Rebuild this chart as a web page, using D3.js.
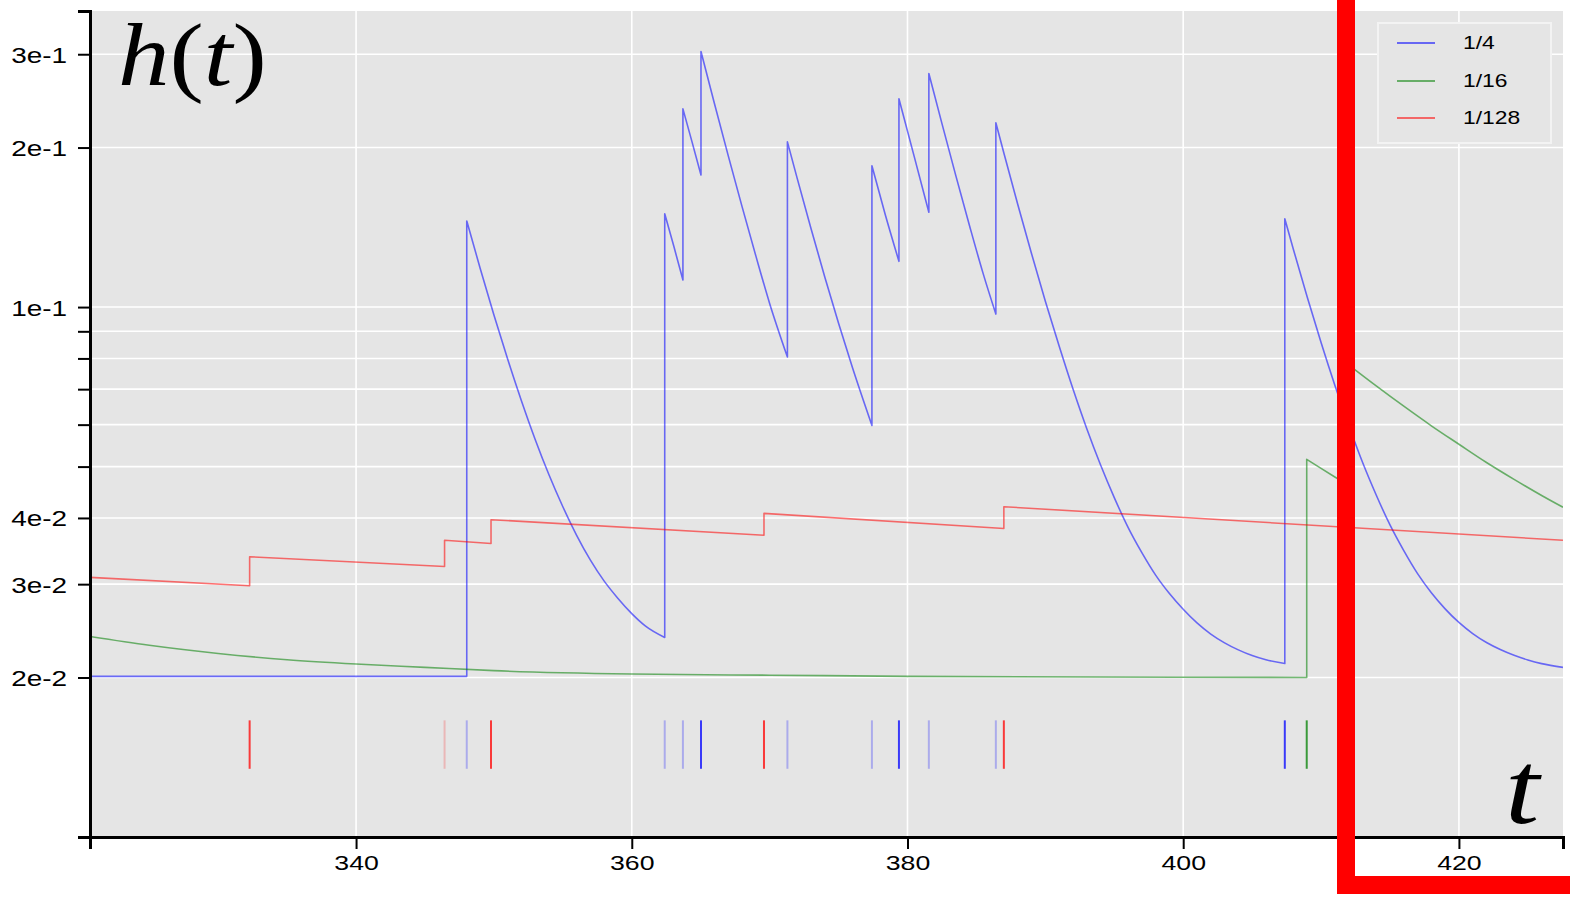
<!DOCTYPE html>
<html>
<head>
<meta charset="utf-8">
<script src="https://cdnjs.cloudflare.com/ajax/libs/d3/7.8.5/d3.min.js"></script>
<style>
  html, body { margin: 0; padding: 0; background: #ffffff; }
  svg { display: block; }
  text { font-family: "Liberation Sans", Arial, Helvetica, sans-serif; fill: #000; }
  .math { font-family: "Liberation Serif", "Times New Roman", serif; }
</style>
</head>
<body>
<svg id="chart" width="1570" height="897"></svg>
<script>
// ---- data -------------------------------------------------------------
const tDomain = [320.7, 427.55];
const hDomain = [0.01, 0.362];

const xTickValues = [340, 360, 380, 400, 420];
const yTickValues = [0.02, 0.03, 0.04, 0.05, 0.06, 0.07, 0.08, 0.09, 0.1, 0.2, 0.3];
const yTickLabels = ["2e-2", "3e-2", "4e-2", "", "", "", "", "", "1e-1", "2e-1", "3e-1"];

const seriesNames = ["1/4", "1/16", "1/128"];
const seriesColors = ["rgba(0,0,255,0.55)", "rgba(0,128,0,0.55)", "rgba(255,0,0,0.55)"];

// intensity for decay 1/4: one segment per interval between jumps, [t, h]
const blueSegments = [
  [[320.7, 0.0201], [348.03, 0.0201]],
  [[348.03, 0.1454], [349, 0.1184], [350, 0.0966], [351, 0.0797], [352, 0.0665], [353, 0.0562],
   [354, 0.0482], [355, 0.0420], [356, 0.0371], [357, 0.0333], [358, 0.0304], [359, 0.0282],
   [360, 0.0264], [361, 0.0250], [362.39, 0.0238]],
  [[362.39, 0.150], [363.05, 0.1302], [363.71, 0.1125]],
  [[363.71, 0.2366], [364.37, 0.2050], [365.02, 0.1775]],
  [[365.02, 0.3036], [366, 0.2420], [367, 0.1929], [368, 0.1547], [369, 0.1249], [370, 0.1016],
   [371.29, 0.0805]],
  [[371.29, 0.205], [372, 0.1749], [373, 0.1407], [374, 0.1140], [375, 0.0932], [376, 0.0770],
   [377.42, 0.0598]],
  [[377.42, 0.1848], [378.4, 0.149], [379.38, 0.1220]],
  [[379.38, 0.2473], [380.47, 0.1931], [381.55, 0.1510]],
  [[381.55, 0.2760], [382.5, 0.2219], [383.5, 0.1772], [384.5, 0.1424], [385.5, 0.1154],
   [386.41, 0.0970]],
  [[386.41, 0.2227], [387, 0.1949], [388, 0.1562], [389, 0.1261], [390, 0.1026], [391, 0.0844],
   [392, 0.0701], [393, 0.0590], [394, 0.0504], [395, 0.0437], [396, 0.0384], [397, 0.0344],
   [398, 0.0312], [399, 0.0288], [400, 0.0269], [401, 0.02535], [402, 0.02415], [403, 0.02325],
   [404, 0.02255], [405, 0.02200], [406, 0.02160], [407.37, 0.02125]],
  [[407.37, 0.1468], [408, 0.1283], [409, 0.1044], [410, 0.0857], [411, 0.0712], [412, 0.0599],
   [413, 0.0510], [414, 0.0442], [415, 0.0388], [416, 0.0347], [417, 0.0314], [418, 0.0289],
   [419, 0.02695], [420, 0.02540], [421, 0.02420], [422, 0.02328], [423, 0.02258],
   [424, 0.02202], [425, 0.02158], [426, 0.02124], [427.55, 0.02090]]
];

// intensity for decay 1/16
const greenSegments = [
  [[320.7, 0.0239], [325, 0.0230], [330, 0.0222], [335, 0.0216], [340, 0.0212], [345, 0.0209],
   [350, 0.0206], [360, 0.0203], [370, 0.0202], [380, 0.0201], [408.96, 0.0200]],
  [[408.96, 0.0516], [410, 0.0496], [411, 0.0478], [412.0, 0.0461]],
  [[412.0, 0.0778], [414, 0.0710], [416, 0.0650], [418, 0.0597], [420, 0.0551], [422, 0.0509],
   [424, 0.0473], [426, 0.0441], [427.55, 0.0419]]
];

// intensity for decay 1/128
const redSegments = [
  [[320.7, 0.0309], [332.28, 0.0298]],
  [[332.28, 0.0338], [346.42, 0.0324]],
  [[346.42, 0.0363], [349.79, 0.0358]],
  [[349.79, 0.0397], [369.59, 0.0371]],
  [[369.59, 0.0408], [386.99, 0.0382]],
  [[386.99, 0.0420], [427.55, 0.0363]]
];

// event times (rug), series index and opacity of the mark
const eventTimes   = [332.28, 346.42, 348.03, 349.79, 362.39, 363.71, 365.02, 369.59, 371.29,
                      377.42, 379.38, 381.55, 386.41, 386.99, 407.37, 408.96, 412.0];
const eventSeries  = [2, 2, 0, 2, 0, 0, 0, 2, 0, 0, 0, 0, 0, 2, 0, 1, 1];
const eventOpacity = [0.75, 0.2, 0.25, 0.75, 0.25, 0.25, 0.75, 0.75, 0.25, 0.25, 0.75, 0.25, 0.25, 0.75, 0.75, 0.75, 0.75];
const rugBand = [0.01345, 0.0166];
const rugColors = ["#0000ff", "#008000", "#ff0000"];

// ---- layout ------------------------------------------------------------
const svg = d3.select("#chart");
const plot = { left: 90, right: 1563, top: 11, bottom: 837 };
const stretch = 1.27;   // horizontal widening of the sans-serif labels

const x = d3.scaleLinear().domain(tDomain).range([plot.left, plot.right]);
const y = d3.scaleLog().domain(hDomain).range([plot.bottom, plot.top]);

svg.append("defs").append("clipPath").attr("id", "plotClip")
  .append("rect")
  .attr("x", plot.left).attr("y", plot.top)
  .attr("width", plot.right - plot.left).attr("height", plot.bottom - plot.top);

// background
svg.append("rect")
  .attr("x", plot.left).attr("y", plot.top)
  .attr("width", plot.right - plot.left).attr("height", plot.bottom - plot.top)
  .attr("fill", "#e5e5e5");

// grid
const grid = svg.append("g").attr("stroke", "#ffffff").attr("stroke-width", 1.6);
grid.selectAll("line.h").data(yTickValues).join("line").attr("class", "h")
  .attr("x1", plot.left).attr("x2", plot.right)
  .attr("y1", d => y(d)).attr("y2", d => y(d));
grid.selectAll("line.v").data(xTickValues).join("line").attr("class", "v")
  .attr("y1", plot.top).attr("y2", plot.bottom)
  .attr("x1", d => x(d)).attr("x2", d => x(d));

// series
const segLine = d3.line().x(d => x(d[0])).y(d => y(d[1])).curve(d3.curveMonotoneX);
function seriesPath(segments) {
  return segments.map((seg, i) => {
    const p = segLine(seg);
    return i === 0 ? p : "L" + p.slice(1);
  }).join("");
}
const lines = svg.append("g").attr("clip-path", "url(#plotClip)").attr("fill", "none");
[blueSegments, greenSegments, redSegments].forEach((segs, i) => {
  lines.append("path")
    .attr("d", seriesPath(segs))
    .attr("stroke", seriesColors[i])
    .attr("stroke-width", 1.6)
    .attr("stroke-linejoin", "round");
});

// rug of event times
svg.append("g").attr("clip-path", "url(#plotClip)")
  .selectAll("line").data(eventTimes).join("line")
  .attr("x1", d => x(d)).attr("x2", d => x(d))
  .attr("y1", y(rugBand[0])).attr("y2", y(rugBand[1]))
  .attr("stroke", (d, i) => rugColors[eventSeries[i]])
  .attr("stroke-opacity", (d, i) => eventOpacity[i])
  .attr("stroke-width", 2);

// axes
const xAxis = d3.axisBottom(x).tickValues(xTickValues).tickSize(12).tickSizeOuter(12).tickFormat(d3.format("d"));
const yAxis = d3.axisLeft(y).tickValues(yTickValues).tickSize(12).tickSizeOuter(12)
  .tickFormat((d, i) => yTickLabels[i]);

const gx = svg.append("g").attr("transform", `translate(0,${plot.bottom})`).call(xAxis);
const gy = svg.append("g").attr("transform", `translate(${plot.left},0)`).call(yAxis);

[gx, gy].forEach(g => {
  g.select(".domain").attr("stroke", "#000").attr("stroke-width", 3);
  g.selectAll(".tick line").attr("stroke", "#000").attr("stroke-width", 2);
  g.selectAll(".tick text").attr("font-size", 21).attr("fill", "#000")
    .style("font-family", "'Liberation Sans', Arial, Helvetica, sans-serif");
});
gx.selectAll(".tick text").attr("y", 18).attr("dy", "0.71em")
  .attr("transform", `scale(${stretch},1)`);
gy.selectAll(".tick text").attr("x", -23 / stretch).attr("dy", "0.36em")
  .attr("font-size", 22)
  .attr("transform", `scale(${stretch},1)`);

// legend
const legend = svg.append("g");
legend.append("rect")
  .attr("x", 1378).attr("y", 23).attr("width", 173).attr("height", 120)
  .attr("fill", "#e5e5e5").attr("stroke", "#f3f3f3").attr("stroke-width", 2);
const rowY = [43, 81, 118];
seriesNames.forEach((name, i) => {
  legend.append("line")
    .attr("x1", 1397).attr("x2", 1435).attr("y1", rowY[i]).attr("y2", rowY[i])
    .attr("stroke", seriesColors[i]).attr("stroke-width", 2);
  legend.append("g").attr("transform", `translate(1463,${rowY[i]})`)
    .append("text")
    .attr("transform", `scale(${stretch},1)`)
    .attr("dy", "0.36em").attr("font-size", 18)
    .text(name);
});

// axis titles in math style
const ht = svg.append("g").attr("transform", "translate(118,85)")
  .append("text").attr("class", "math").attr("font-size", 88)
  .attr("transform", "scale(1.17,1)");
ht.append("tspan").attr("font-style", "italic").text("h");
ht.append("tspan").text("(");
ht.append("tspan").attr("font-style", "italic").text("t");
ht.append("tspan").text(")");

svg.append("g").attr("transform", "translate(1505,823)")
  .append("text").attr("class", "math").attr("font-size", 103).attr("font-style", "italic")
  .attr("transform", "scale(1.2,1)")
  .text("t");

// highlight frame
svg.append("path")
  .attr("d", "M1346,0 V885 H1570")
  .attr("fill", "none").attr("stroke", "#ff0000").attr("stroke-width", 18)
  .attr("stroke-linejoin", "miter");
</script>
</body>
</html>
